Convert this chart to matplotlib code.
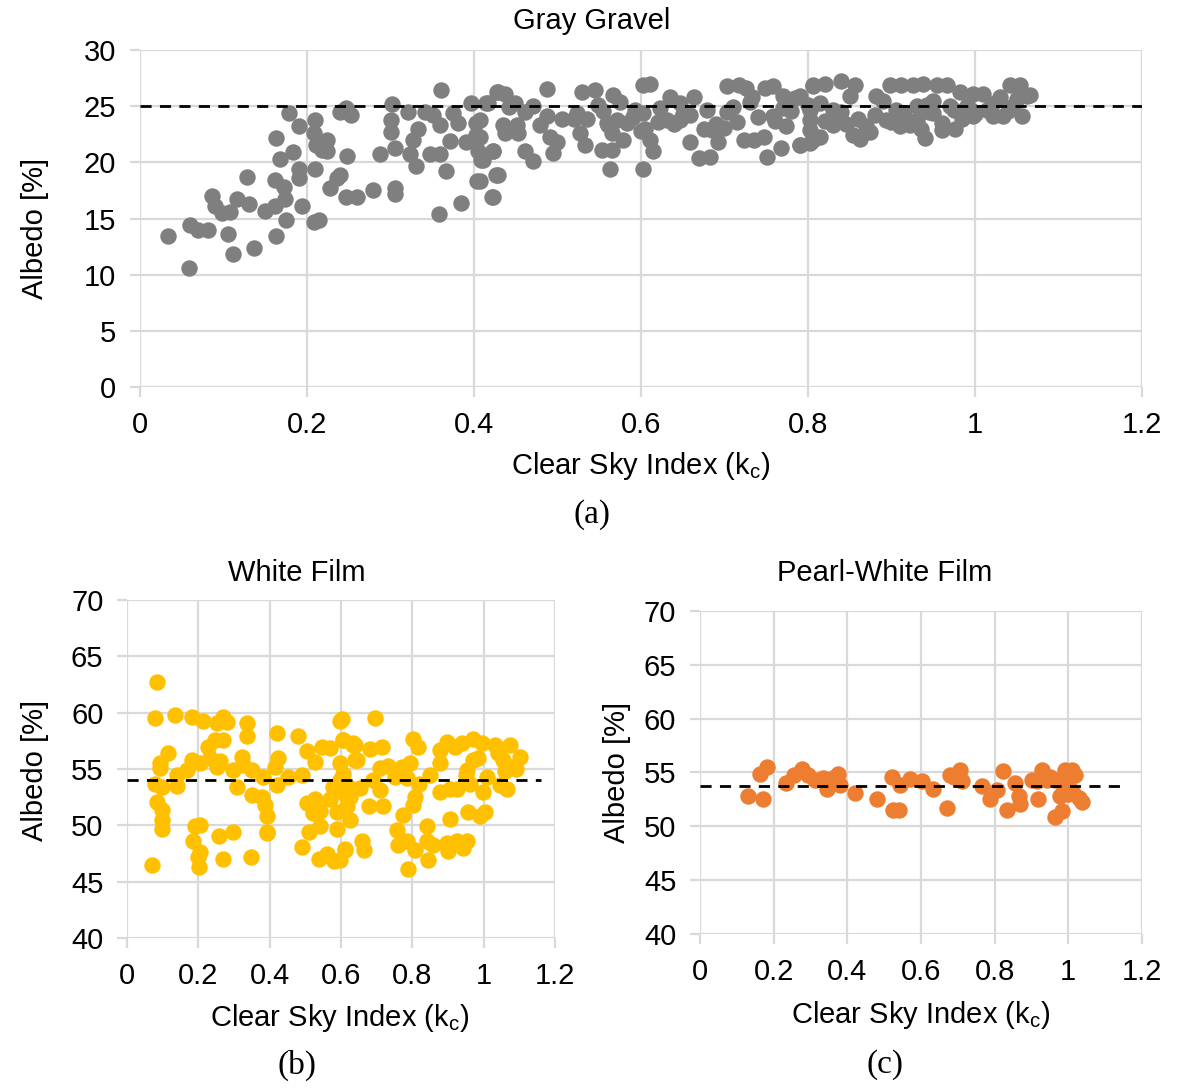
import matplotlib
matplotlib.use("Agg")
import matplotlib.pyplot as plt

# -----------------------
# DATA
# -----------------------
gravel_kc = [
    0.033, 0.059, 0.060, 0.070, 0.081, 0.106, 0.112, 0.086, 0.090, 0.098,
    0.108, 0.116, 0.130, 0.128, 0.137, 0.150, 0.162, 0.163, 0.162, 0.163,
    0.168, 0.172, 0.174, 0.175, 0.178, 0.183, 0.190, 0.190, 0.190, 0.194,
    0.210, 0.208, 0.211, 0.218, 0.224, 0.210, 0.208, 0.214, 0.224, 0.228,
    0.236, 0.239, 0.240, 0.247, 0.253, 0.248, 0.247, 0.260, 0.279, 0.287,
    0.302, 0.301, 0.301, 0.305, 0.305, 0.305, 0.321, 0.333, 0.327, 0.323,
    0.331, 0.341, 0.351, 0.359, 0.347, 0.359, 0.361, 0.358, 0.367, 0.371,
    0.375, 0.381, 0.385, 0.391, 0.397, 0.403, 0.403, 0.405, 0.409, 0.404,
    0.417, 0.423, 0.426, 0.423, 0.427, 0.429, 0.437, 0.415, 0.407, 0.407,
    0.411, 0.407, 0.423, 0.429, 0.422, 0.435, 0.437, 0.442, 0.449, 0.451,
    0.453, 0.461, 0.471, 0.487, 0.479, 0.487, 0.491, 0.499, 0.495, 0.461,
    0.471, 0.523, 0.529, 0.545, 0.535, 0.527, 0.533, 0.549, 0.567, 0.575,
    0.559, 0.571, 0.583, 0.565, 0.579, 0.553, 0.565, 0.563, 0.593, 0.603,
    0.611, 0.603, 0.605, 0.611, 0.615, 0.603, 0.623, 0.635, 0.647, 0.631,
    0.647, 0.659, 0.664, 0.679, 0.659, 0.669, 0.683, 0.675, 0.685, 0.692,
    0.703, 0.717, 0.726, 0.703, 0.715, 0.723, 0.733, 0.735, 0.747, 0.751,
    0.749, 0.758, 0.768, 0.770, 0.784, 0.758, 0.774, 0.790, 0.806, 0.802,
    0.806, 0.806, 0.820, 0.840, 0.856, 0.790, 0.802, 0.814, 0.830, 0.830,
    0.802, 0.814, 0.802, 0.790, 0.850, 0.862, 0.854, 0.874, 0.882, 0.894,
    0.898, 0.912, 0.906, 0.910, 0.922, 0.926, 0.938, 0.930, 0.942, 0.940,
    0.950, 0.954, 0.966, 0.960, 0.970, 0.976, 0.982, 0.990, 0.998, 0.998,
    1.010, 1.014, 1.022, 1.030, 1.034, 1.042, 1.054, 1.046, 1.066, 1.056,
    1.062, 0.520, 0.555, 0.590, 0.620, 0.650, 0.690, 0.710, 0.740, 0.760,
    0.780, 0.800, 0.820, 0.840, 0.860, 0.880, 0.900, 0.915, 0.930, 0.945,
    0.960, 0.975, 0.985, 1.000, 1.020, 1.040, 0.700, 0.730, 0.770, 0.845,
    0.870, 0.890, 0.935, 0.950, 0.995, 1.050, 0.640, 0.600, 0.560, 0.505,
]
gravel_albedo = [
    13.4, 10.6, 14.4, 14.0, 14.0, 13.6, 11.8, 17.0, 16.1, 15.5,
    15.6, 16.7, 16.3, 18.7, 12.4, 15.7, 16.1, 22.2, 18.4, 13.4,
    20.3, 17.8, 16.7, 14.9, 24.4, 20.9, 23.2, 19.4, 18.6, 16.1,
    23.8, 22.6, 21.5, 21.1, 22.0, 19.4, 14.7, 14.9, 21.0, 17.7,
    18.6, 18.9, 24.5, 24.8, 24.2, 20.6, 16.9, 16.9, 17.5, 20.7,
    25.2, 23.8, 22.7, 21.3, 17.7, 17.2, 24.5, 23.0, 22.0, 20.7,
    19.7, 24.5, 24.2, 23.3, 20.7, 20.7, 26.4, 15.4, 19.2, 21.9,
    24.4, 23.5, 16.4, 21.8, 25.3, 23.5, 22.4, 21.0, 20.2, 18.3,
    25.3, 21.0, 18.9, 16.9, 26.3, 26.3, 26.1, 25.3, 23.8, 22.3,
    20.2, 18.3, 21.0, 18.9, 16.9, 23.3, 22.6, 24.9, 25.3, 23.3,
    22.6, 24.5, 25.0, 26.5, 23.3, 24.1, 22.3, 21.8, 20.8, 21.0,
    20.1, 24.4, 26.3, 26.4, 23.9, 22.6, 21.5, 25.1, 26.0, 25.4,
    23.5, 23.8, 23.5, 22.6, 22.0, 21.1, 21.1, 19.4, 24.7, 26.9,
    27.0, 24.4, 23.0, 22.0, 21.0, 19.4, 24.8, 25.8, 25.3, 23.8,
    23.8, 24.2, 25.8, 24.7, 21.8, 20.4, 20.5, 23.0, 22.9, 21.8,
    26.8, 26.9, 26.6, 24.5, 23.6, 22.0, 25.8, 22.0, 22.3, 20.5,
    26.6, 26.8, 21.3, 25.9, 25.7, 24.1, 23.2, 21.5, 26.8, 23.8,
    22.0, 26.9, 27.0, 27.2, 26.9, 25.9, 24.7, 25.3, 24.7, 23.3,
    22.9, 22.3, 21.7, 21.5, 25.9, 22.1, 22.4, 22.7, 25.9, 23.8,
    26.9, 26.9, 24.7, 23.2, 23.3, 26.9, 27.0, 25.0, 25.1, 22.2,
    24.4, 26.9, 26.9, 22.9, 25.0, 23.0, 26.3, 25.0, 24.1, 26.1,
    26.1, 24.7, 24.1, 25.8, 24.1, 26.9, 26.9, 25.0, 26.0, 24.1,
    25.9, 23.9, 24.6, 24.0, 23.6, 24.3, 23.4, 24.9, 24.0, 23.7,
    24.6, 25.1, 23.7, 24.5, 23.9, 24.2, 23.6, 24.4, 23.8, 24.5,
    23.5, 24.7, 23.9, 24.3, 25.2, 24.6, 23.1, 25.4, 24.8, 23.4,
    23.2, 25.5, 23.0, 25.5, 24.7, 25.6, 23.4, 22.8, 23.3, 23.9,
]

white_kc = [
    0.083, 0.077, 0.135, 0.181, 0.214, 0.251, 0.270, 0.279, 0.336, 0.336,
    0.420, 0.480, 0.504, 0.527, 0.546, 0.569, 0.597, 0.606, 0.634, 0.114,
    0.093, 0.091, 0.078, 0.097, 0.139, 0.139, 0.167, 0.181, 0.205, 0.228,
    0.247, 0.270, 0.233, 0.251, 0.261, 0.298, 0.322, 0.326, 0.350, 0.307,
    0.350, 0.378, 0.387, 0.392, 0.392, 0.382, 0.415, 0.424, 0.420, 0.452,
    0.490, 0.083, 0.097, 0.097, 0.097, 0.069, 0.191, 0.205, 0.186, 0.205,
    0.200, 0.202, 0.259, 0.298, 0.268, 0.347, 0.392, 0.490, 0.510, 0.541,
    0.504, 0.527, 0.521, 0.541, 0.539, 0.562, 0.580, 0.569, 0.588, 0.588,
    0.611, 0.625, 0.578, 0.597, 0.606, 0.597, 0.611, 0.625, 0.634, 0.644,
    0.695, 0.602, 0.606, 0.639, 0.681, 0.714, 0.803, 0.817, 0.639, 0.709,
    0.733, 0.770, 0.792, 0.690, 0.751, 0.784, 0.818, 0.849, 0.877, 0.877,
    0.896, 0.938, 0.971, 0.994, 1.032, 1.074, 1.102, 1.055, 1.078, 0.971,
    0.952, 1.008, 0.962, 0.999, 1.046, 1.064, 0.709, 0.653, 0.616, 0.625,
    0.616, 0.677, 0.719, 0.807, 0.803, 0.877, 0.905, 0.924, 0.775, 0.905,
    0.957, 0.990, 1.004, 0.840, 0.756, 0.761, 0.784, 0.807, 0.840, 0.859,
    0.896, 0.900, 0.924, 0.952, 0.943, 0.845, 0.787, 0.658, 0.663, 0.611,
    0.597, 1.090, 1.060, 1.040, 0.985, 0.950, 0.920,
]
white_albedo = [
    62.7, 59.5, 59.8, 59.6, 59.3, 59.1, 59.6, 59.2, 59.1, 57.9,
    58.2, 57.9, 56.6, 55.6, 57.0, 56.9, 59.3, 57.6, 57.1, 56.4,
    55.5, 55.1, 53.7, 53.4, 54.5, 53.5, 54.9, 55.8, 55.5, 57.0,
    57.6, 57.6, 56.0, 55.2, 55.7, 54.9, 56.1, 55.4, 54.9, 53.4,
    52.7, 52.5, 51.8, 50.8, 49.3, 54.3, 55.2, 56.0, 53.6, 54.3,
    54.5, 52.1, 51.4, 50.5, 49.7, 46.5, 49.9, 50.0, 48.6, 47.6,
    47.2, 46.3, 49.1, 49.4, 47.0, 47.2, 49.4, 48.1, 49.4, 49.9,
    52.0, 52.3, 51.1, 51.3, 47.0, 47.5, 46.8, 52.3, 51.2, 49.7,
    47.9, 50.5, 53.4, 55.5, 54.6, 54.0, 52.8, 53.3, 57.3, 55.8,
    59.5, 59.4, 57.6, 57.1, 56.8, 57.0, 57.7, 57.0, 55.8, 55.1,
    55.3, 55.2, 55.5, 54.0, 54.3, 54.2, 53.7, 54.5, 55.5, 56.7,
    57.4, 57.3, 57.7, 57.3, 57.1, 57.1, 56.1, 55.8, 55.2, 55.8,
    54.9, 54.3, 53.7, 53.0, 53.6, 53.2, 53.1, 53.3, 53.1, 52.5,
    51.7, 51.7, 51.7, 52.5, 51.8, 53.0, 53.2, 53.2, 50.9, 50.6,
    51.2, 50.8, 51.2, 49.9, 49.6, 48.3, 48.6, 47.8, 48.6, 48.3,
    48.4, 47.7, 48.6, 48.6, 48.0, 46.9, 46.1, 48.6, 47.8, 47.8,
    46.9, 55.0, 54.8, 56.4, 56.0, 54.5, 57.0,
]

pearl_kc = [
    0.130, 0.163, 0.181, 0.172, 0.233, 0.254, 0.276, 0.294, 0.313, 0.335,
    0.344, 0.362, 0.376, 0.380, 0.421, 0.480, 0.521, 0.525, 0.539, 0.543,
    0.571, 0.602, 0.634, 0.670, 0.679, 0.707, 0.711, 0.766, 0.788, 0.806,
    0.824, 0.833, 0.856, 0.865, 0.870, 0.901, 0.919, 0.929, 0.942, 0.965,
    0.983, 0.965, 0.978, 0.992, 1.010, 1.019, 1.005, 1.014, 1.037, 1.028,
    0.987, 0.915, 0.951, 0.350, 0.690, 0.995, 1.000,
]
pearl_albedo = [
    52.8, 54.9, 55.5, 52.5, 54.0, 54.8, 55.3, 54.8, 54.3, 54.5,
    53.5, 54.5, 54.9, 53.8, 53.1, 52.5, 54.6, 51.5, 51.5, 53.8,
    54.4, 54.2, 53.5, 51.7, 54.8, 55.2, 54.2, 53.7, 52.5, 53.4,
    55.1, 51.5, 54.0, 52.8, 52.1, 54.3, 52.5, 55.2, 54.3, 50.9,
    51.4, 54.3, 52.8, 55.2, 55.2, 54.8, 53.5, 53.1, 52.3, 52.6,
    53.5, 54.2, 54.6, 53.9, 54.6, 54.0, 53.0,
]

x_ticks = [0, 0.2, 0.4, 0.6, 0.8, 1.0, 1.2]
x_labels = ["0", "0.2", "0.4", "0.6", "0.8", "1", "1.2"]

# -----------------------
# STYLE
# -----------------------
plt.rcParams['font.family'] = ['Liberation Sans', 'DejaVu Sans']
plt.rcParams['mathtext.fontset'] = 'custom'
plt.rcParams['mathtext.rm'] = 'Liberation Sans'
GRID = "#D9D9D9"
FS = 21
XLAB = r"Clear Sky Index (k$_\mathregular{c}$)"
W, H = 1184, 1092


def px(x, y):
    # pixel position -> figure fraction
    return x / W, 1 - y / H


def style_axes(ax, ylim, ystep, title, title_xy, xlab_xy, ylab_xy):
    ax.set_xlim(0, 1.2)
    ax.set_ylim(*ylim)
    ax.set_xticks(x_ticks)
    ax.set_xticklabels(x_labels)
    ax.set_yticks(range(ylim[0], ylim[1] + 1, ystep))
    ax.grid(True, color=GRID, linewidth=1.6, zorder=0)
    ax.set_axisbelow(True)
    for s in ax.spines.values():
        s.set_visible(False)
    ax.tick_params(axis="both", length=7, width=1.6, color=GRID,
                   labelsize=FS, pad=10)
    ax.set_xlabel(XLAB, fontsize=FS, va="center")
    ax.set_ylabel("Albedo [%]", fontsize=FS, va="center")
    ax.xaxis.set_label_coords(*px(*xlab_xy), transform=fig.transFigure)
    ax.yaxis.set_label_coords(*px(*ylab_xy), transform=fig.transFigure)
    fx, fy = px(*title_xy)
    fig.text(fx, fy, title, ha="center", va="center", fontsize=FS)


fig = plt.figure(figsize=(11.84, 10.92), dpi=100)

ax_a = fig.add_axes([0.1182, 0.6456, 0.8463, 0.3086])
ax_b = fig.add_axes([0.1073, 0.1410, 0.3615, 0.3095])
ax_c = fig.add_axes([0.5912, 0.1447, 0.3733, 0.2958])

# (a) gray gravel
style_axes(ax_a, (0, 30), 5, "Gray Gravel", (592, 21), (641, 466), (35, 228))
ax_a.scatter(gravel_kc, gravel_albedo, s=140, color="#7F7F7F",
             linewidths=0, zorder=2)
ax_a.plot([0, 1.2], [25, 25], "--", color="black", linewidth=2,
          dashes=(4, 3), zorder=3)

# (b) white film
style_axes(ax_b, (40, 70), 5, "White Film", (297, 573), (340, 1018), (35, 770))
ax_b.scatter(white_kc, white_albedo, s=140, color="#FFC000",
             linewidths=0, zorder=2)
ax_b.plot([0, 1.16], [54, 54], "--", color="black", linewidth=2,
          dashes=(4, 3), zorder=3)

# (c) pearl-white film
style_axes(ax_c, (40, 70), 5, "Pearl-White Film", (885, 573), (921, 1015),
           (617, 772))
ax_c.scatter(pearl_kc, pearl_albedo, s=140, color="#ED7D31",
             linewidths=0, zorder=2)
ax_c.plot([0, 1.15], [53.7, 53.7], "--", color="black", linewidth=2,
          dashes=(4, 3), zorder=3)

# panel letters
for x, y, t in [(592, 515, "(a)"), (297, 1065, "(b)"), (885, 1065, "(c)")]:
    fx, fy = px(x, y)
    fig.text(fx, fy, t, ha="center", va="center", fontsize=24,
             family="Liberation Serif")

fig.savefig("out.png", dpi=100)
